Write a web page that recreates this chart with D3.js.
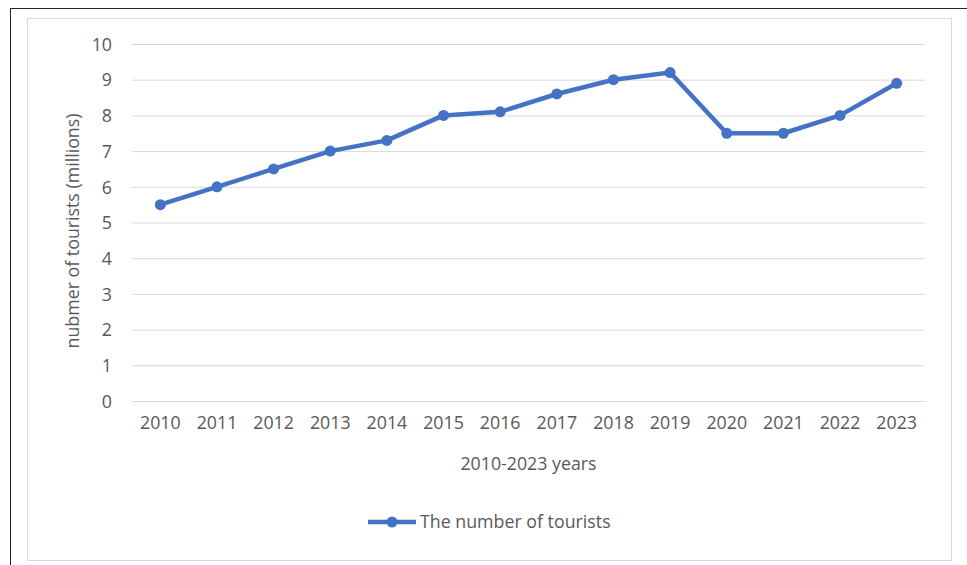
<!DOCTYPE html>
<html>
<head>
<meta charset="utf-8">
<script src="https://cdn.jsdelivr.net/npm/d3@7"></script>
<style>
  body { margin: 0; background: #fff; }
  svg text { font-family: "Open Sans", sans-serif; fill: #595959; }
</style>
</head>
<body>
<svg width="967" height="565"></svg>
<script>
// data
var years = ["2010", "2011", "2012", "2013", "2014", "2015", "2016",
             "2017", "2018", "2019", "2020", "2021", "2022", "2023"];
var tourists = [5.5, 6.0, 6.5, 7.0, 7.3, 8.0, 8.1, 8.6, 9.0, 9.2, 7.5, 7.5, 8.0, 8.9];
var yTicks = [0, 1, 2, 3, 4, 5, 6, 7, 8, 9, 10];
var seriesName = "The number of tourists";
var xTitle = "2010-2023 years";
var yTitle = "nubmer of tourists (millions)";

var blue = "#4472C4";
var grid = "#d9d9d9";
var fs = 17.8;

var svg = d3.select("svg");
var margin = { top: 44, left: 132, bottom: 164, right: 42 };
var width = +svg.attr("width");
var height = +svg.attr("height");

// frames
svg.append("rect")
  .attr("x", 10.5).attr("y", 8.5)
  .attr("width", 1000).attr("height", 600)
  .attr("fill", "none").attr("stroke", "#222");
svg.append("rect")
  .attr("x", 27.5).attr("y", 18.5)
  .attr("width", 924).attr("height", 542)
  .attr("fill", "none").attr("stroke", grid);

var x = d3.scaleBand()
  .domain(years)
  .range([margin.left, width - margin.right]);

var y = d3.scaleLinear()
  .domain([0, 10])
  .range([height - margin.bottom, margin.top]);

// gridlines + y labels
var yAxis = d3.axisLeft(y)
  .tickValues(yTicks)
  .tickSize(-(width - margin.left - margin.right))
  .tickPadding(20);

svg.append("g")
  .attr("transform", "translate(" + margin.left + ",0)")
  .call(yAxis)
  .call(g => g.select(".domain").remove())
  .call(g => g.selectAll("line").attr("stroke", grid))
  .call(g => g.selectAll("text").attr("font-size", fs).attr("dy", "0.35em"));

// x labels
var xAxis = d3.axisBottom(x).tickSize(0).tickPadding(15);
svg.append("g")
  .attr("transform", "translate(0," + y(0) + ")")
  .call(xAxis)
  .call(g => g.select(".domain").attr("stroke", grid))
  .call(g => g.selectAll("text").attr("font-size", fs));

// axis titles
svg.append("text")
  .attr("x", (margin.left + width - margin.right) / 2)
  .attr("y", 470)
  .attr("text-anchor", "middle")
  .attr("font-size", fs)
  .text(xTitle);

svg.append("text")
  .attr("transform", "translate(79,231) rotate(-90)")
  .attr("text-anchor", "middle")
  .attr("font-size", fs)
  .text(yTitle);

// line
var line = d3.line()
  .x((d, i) => x(years[i]) + x.bandwidth() / 2)
  .y(d => y(d));

svg.append("path")
  .datum(tourists)
  .attr("d", line)
  .attr("fill", "none")
  .attr("stroke", blue)
  .attr("stroke-width", 4.5)
  .attr("stroke-linejoin", "round");

svg.selectAll(".dot")
  .data(tourists)
  .join("circle")
  .attr("class", "dot")
  .attr("cx", (d, i) => x(years[i]) + x.bandwidth() / 2)
  .attr("cy", d => y(d))
  .attr("r", 5.5)
  .attr("fill", blue);

// legend
var lg = svg.append("g").attr("transform", "translate(368,522)");
lg.append("line")
  .attr("x1", 0).attr("x2", 48)
  .attr("stroke", blue).attr("stroke-width", 4.5);
lg.append("circle").attr("cx", 24).attr("r", 5.5).attr("fill", blue);
lg.append("text")
  .attr("x", 52).attr("dy", "0.35em")
  .attr("font-size", fs)
  .text(seriesName);
</script>
</body>
</html>
